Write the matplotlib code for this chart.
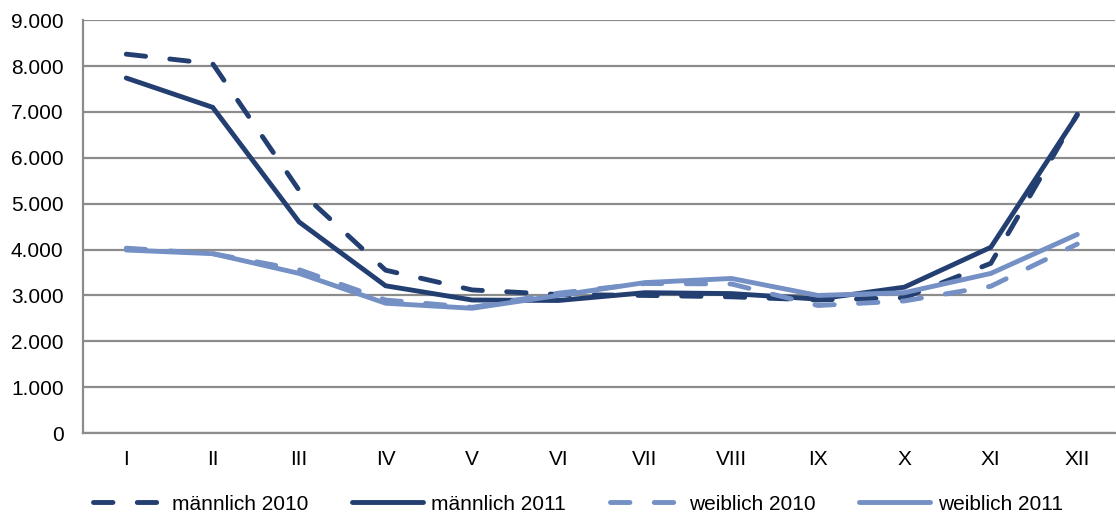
import matplotlib
matplotlib.use("Agg")
import matplotlib.pyplot as plt
from matplotlib.ticker import FuncFormatter

months = ["I", "II", "III", "IV", "V", "VI", "VII", "VIII", "IX", "X", "XI", "XII"]
maennlich_2010 = [8260, 8050, 5290, 3550, 3120, 3020, 3000, 2970, 2900, 2950, 3700, 6950]
maennlich_2011 = [7740, 7100, 4600, 3210, 2900, 2890, 3060, 3040, 2920, 3180, 4050, 6930]
weiblich_2010 = [4030, 3910, 3560, 2900, 2740, 3050, 3260, 3250, 2780, 2880, 3200, 4120]
weiblich_2011 = [3990, 3910, 3480, 2830, 2720, 3000, 3280, 3370, 3000, 3060, 3480, 4330]

dark = "#233E71"
light = "#7490C5"
grid_c = "#8C8C8C"

plt.rcParams["font.family"] = ["Liberation Sans", "DejaVu Sans"]

fig = plt.figure(figsize=(11.16, 5.18), dpi=100)
ax = fig.add_axes([0.0744, 0.164, 0.925, 0.797])

x = list(range(len(months)))
lw = 3.5
ax.plot(x, maennlich_2010, color=dark, lw=lw, dashes=(4.0, 5.0), dash_capstyle="round", label="männlich 2010", zorder=3)
ax.plot(x, maennlich_2011, color=dark, lw=lw, solid_capstyle="round", solid_joinstyle="miter", label="männlich 2011", zorder=3)
ax.plot(x, weiblich_2010, color=light, lw=lw, dashes=(4.0, 5.0), dash_capstyle="round", label="weiblich 2010", zorder=3)
ax.plot(x, weiblich_2011, color=light, lw=lw, solid_capstyle="round", solid_joinstyle="miter", label="weiblich 2011", zorder=3)

ax.set_xlim(-0.5, 11.44)
ax.set_ylim(0, 9000)
ax.set_yticks(range(0, 9001, 1000))
ax.yaxis.set_major_formatter(FuncFormatter(lambda v, p: f"{int(v):,}".replace(",", ".")))
ax.set_xticks(x)
ax.set_xticklabels(months)
ax.tick_params(axis="both", length=0, labelsize=15, colors="black")
ax.tick_params(axis="y", pad=14)
ax.tick_params(axis="x", pad=12)

ax.grid(axis="y", color=grid_c, lw=1.6, zorder=0)
ax.set_axisbelow(True)
for s in ["top", "right"]:
    ax.spines[s].set_visible(False)
for s in ["left", "bottom"]:
    ax.spines[s].set_color(grid_c)
    ax.spines[s].set_linewidth(1.6)

leg = fig.legend(loc="center", bbox_to_anchor=(0.518, 0.027), ncol=4, frameon=False,
                 fontsize=15, handlelength=3.4, handletextpad=0.4, columnspacing=2.1)

fig.savefig("out.png", dpi=100)
